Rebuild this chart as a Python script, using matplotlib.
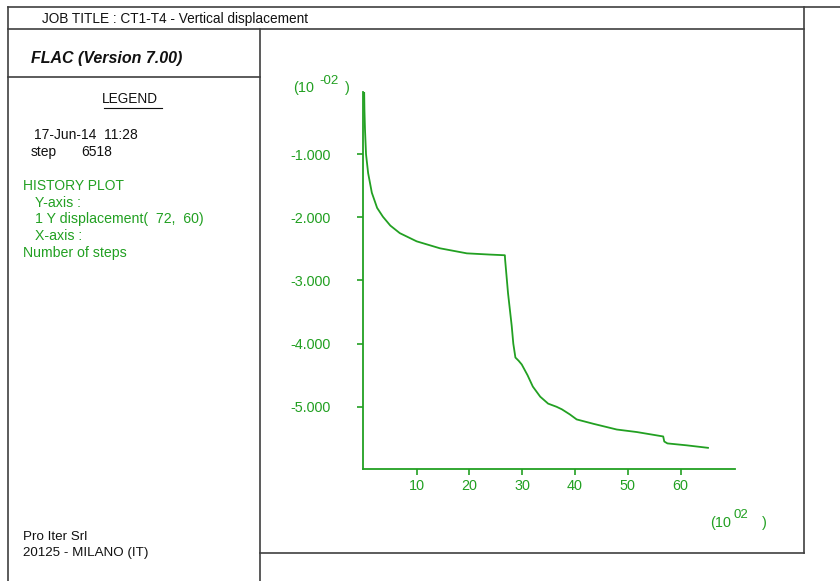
import matplotlib
matplotlib.use("Agg")
import matplotlib.pyplot as plt
from matplotlib.lines import Line2D

plt.rcParams['font.family'] = ['Liberation Sans', 'DejaVu Sans']

# Data: steps in units of 10^2, displacement in units of 10^-2
steps = [0.05, 0.1, 0.2, 0.4, 0.8, 1.5, 2.5, 3.6, 5.0, 6.8, 10.0, 14.4, 19.5, 24.0,
         26.7, 26.75, 27.3, 28.0, 28.3, 28.7, 29.3, 29.9, 31.0, 32.0, 33.4, 34.9,
         36.5, 37.5, 39.0, 40.3, 43.5, 47.9, 51.7, 56.7, 56.9, 57.5, 61.1, 65.18]
disp = [-0.02, -0.3, -0.6, -1.0, -1.3, -1.61, -1.85, -1.99, -2.13, -2.25, -2.38, -2.49,
        -2.57, -2.59, -2.60, -2.67, -3.2, -3.72, -4.0, -4.22, -4.27, -4.33, -4.5, -4.68,
        -4.84, -4.95, -5.0, -5.04, -5.12, -5.2, -5.27, -5.36, -5.40, -5.47, -5.55, -5.58,
        -5.61, -5.65]
xticks = [10, 20, 30, 40, 50, 60]
yticks = [-1, -2, -3, -4, -5]

W, H = 840, 581
GREEN = '#22a022'
FRAME = '#404040'
fig = plt.figure(figsize=(W / 100, H / 100), dpi=100)

def px(x, y):
    return x / W, 1 - y / H

def hline(y, x0, x1):
    fig.add_artist(Line2D([x0 / W, x1 / W], [1 - y / H, 1 - y / H], color=FRAME, lw=1.2,
                          transform=fig.transFigure))

def vline(x, y0, y1):
    fig.add_artist(Line2D([x / W, x / W], [1 - y0 / H, 1 - y1 / H], color=FRAME, lw=1.2,
                          transform=fig.transFigure))

def txt(x, y, s, color='#111111', size=9.8, **kw):
    fig.text(*px(x, y), s, color=color, fontsize=size, va='center', ha=kw.pop('ha', 'left'), **kw)

# frame
hline(7, 8, 840)
vline(8, 7, 581)
vline(804, 7, 553)
hline(29, 8, 804)
vline(260, 29, 581)
hline(77, 8, 260)
hline(553, 260, 804)

# left panel texts
txt(42, 19, 'JOB TITLE : CT1-T4 - Vertical displacement', size=9.8)
txt(31, 59, 'FLAC (Version 7.00)', size=11.5, fontweight='bold', fontstyle='italic')
txt(130, 99, 'LEGEND', ha='center')
fig.add_artist(Line2D([104 / W, 162 / W], [1 - 108 / H, 1 - 108 / H], color='#111111', lw=0.8,
                      transform=fig.transFigure))
txt(34, 135, '17-Jun-14  11:28', size=10)
txt(31, 152, 'step', size=10)
txt(81, 152, '6518', size=10)
txt(23, 186, 'HISTORY PLOT', color=GREEN, size=10)
txt(35, 203, 'Y-axis :', color=GREEN, size=10.2)
txt(35, 219, '1 Y displacement(  72,  60)', color=GREEN, size=10.2)
txt(35, 236, 'X-axis :', color=GREEN, size=10.2)
txt(23, 253, 'Number of steps', color=GREEN, size=10.2)
txt(23, 537, 'Pro Iter Srl', size=9.6)
txt(23, 553, '20125 - MILANO (IT)', size=9.6)

# axes
ax_l, ax_r, ax_t, ax_b = 362.7, 735, 91.7, 469.3
ax = fig.add_axes([ax_l / W, 1 - ax_b / H, (ax_r - ax_l) / W, (ax_b - ax_t) / H])
ax.plot(steps, disp, color=GREEN, lw=1.3)
ax.set_xlim(-0.23, 70.3)
ax.set_ylim(-5.99, -0.01)
for s in ['top', 'right']:
    ax.spines[s].set_visible(False)
for s in ['left', 'bottom']:
    ax.spines[s].set_color(GREEN)
    ax.spines[s].set_linewidth(1.3)
ax.set_xticks(xticks)
ax.set_xticklabels([str(v) for v in xticks])
ax.set_yticks(yticks)
ax.set_yticklabels(['%.3f' % v for v in yticks])
ax.tick_params(axis='both', colors=GREEN, labelcolor=GREEN, labelsize=10.4, length=4, width=1.2,
               direction='out')
ax.tick_params(axis='y', pad=19)
ax.tick_params(axis='x', pad=3)
ax.patch.set_alpha(0)

# exponent labels
txt(293, 88, '(10', color=GREEN, size=10.4)
txt(319, 81, '-02', color=GREEN, size=9.5)
txt(345, 88, ')', color=GREEN, size=10.4)
txt(710, 523, '(10', color=GREEN, size=10.4)
txt(734, 515, '02', color=GREEN, size=9.5)
txt(762, 523, ')', color=GREEN, size=10.4)

fig.savefig('out.png', dpi=100, facecolor='white')
